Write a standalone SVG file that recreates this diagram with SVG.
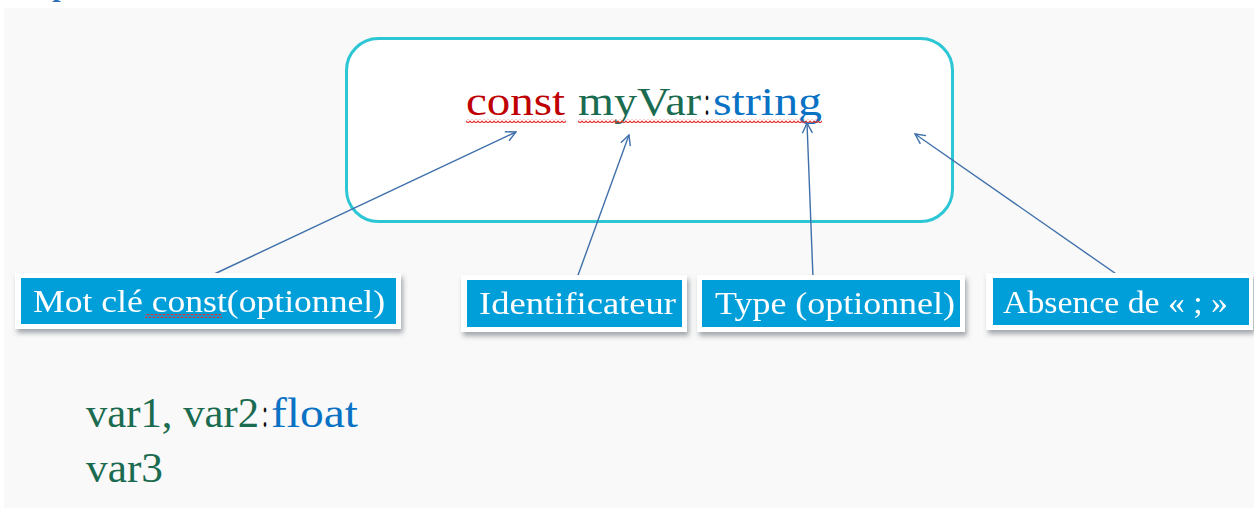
<svg xmlns="http://www.w3.org/2000/svg" width="1254" height="508" viewBox="0 0 1254 508">
  <style>
    .serif { font-family: "Liberation Serif", "DejaVu Serif", serif; }
    .label-outer { fill: #ffffff; }
    .label-inner { fill: #069fd9; }
    .label-text { font-family: "Liberation Serif", "DejaVu Serif", serif; font-size: 31px; fill: #ffffff; }
    .kw { fill: #c00000; }
    .ident { fill: #1a6b50; }
    .type { fill: #0a72c4; }
    .colon { fill: #111111; }
    .conn { stroke: #3f70aa; stroke-width: 1.4; fill: none; marker-end: url(#open-arrow); }
  </style>
  <defs>
    <marker id="open-arrow" viewBox="0 0 12 12" refX="11" refY="6" markerWidth="12" markerHeight="12" markerUnits="userSpaceOnUse" orient="auto">
      <path d="M1,1 L11,6 L1,11" fill="none" stroke="#3f70aa" stroke-width="1.4"/>
    </marker>
    <pattern id="squiggle" x="0" y="0" width="4" height="4" patternUnits="userSpaceOnUse">
      <polyline points="0,3 2,1 4,3" fill="none" stroke="#e0312e" stroke-width="1.2"/>
    </pattern>
    <filter id="shadow" x="-5%" y="-20%" width="112%" height="160%">
      <feDropShadow dx="2" dy="4" stdDeviation="2.5" flood-color="#4a5560" flood-opacity="0.5"/>
    </filter>
  </defs>

  <!-- page background -->
  <rect x="0" y="0" width="1254" height="508" fill="#ffffff"/>
  <rect x="4" y="8" width="1250" height="500" fill="#f9f9f9"/>

  <!-- heading, mostly above the top edge -->
  <text class="serif" x="-21" y="-4" font-size="30" font-weight="bold" fill="#2f6eba">Exemple</text>

  <!-- declaration box -->
  <g id="declaration">
    <rect x="346.5" y="38.5" width="606" height="183" rx="32" ry="32" fill="#ffffff" stroke="#2cc6d4" stroke-width="3"/>
    <text class="serif" y="115" font-size="40">
      <tspan class="kw" x="466" textLength="99" lengthAdjust="spacingAndGlyphs">const</tspan>
      <tspan class="ident" x="578" textLength="123" lengthAdjust="spacingAndGlyphs">myVar</tspan>
      <tspan class="colon" x="704" textLength="6" lengthAdjust="spacingAndGlyphs">:</tspan>
      <tspan class="type" x="713" textLength="109" lengthAdjust="spacingAndGlyphs">string</tspan>
    </text>
    <rect x="466" y="119" width="100" height="4" fill="url(#squiggle)"/>
    <rect x="578" y="119" width="244" height="4" fill="url(#squiggle)"/>
  </g>

  <!-- connectors -->
  <g id="connectors">
    <line class="conn" x1="210" y1="276" x2="516" y2="132"/>
    <line class="conn" x1="577" y1="278" x2="629" y2="135"/>
    <line class="conn" x1="813" y1="278" x2="807" y2="123"/>
    <line class="conn" x1="1122" y1="278" x2="915" y2="134"/>
  </g>

  <!-- labels -->
  <g id="label-keyword" filter="url(#shadow)">
    <rect class="label-outer" x="15" y="273" width="386" height="56"/>
    <rect class="label-inner" x="21" y="278" width="375" height="46"/>
    <text class="label-text" x="33" y="312" textLength="352" lengthAdjust="spacingAndGlyphs">Mot clé const(optionnel)</text>
    <rect x="145" y="314" width="77" height="4" fill="url(#squiggle)"/>
  </g>
  <g id="label-identifier" filter="url(#shadow)">
    <rect class="label-outer" x="461" y="275" width="226" height="57"/>
    <rect class="label-inner" x="467" y="280" width="215" height="47"/>
    <text class="label-text" x="479" y="314" textLength="197" lengthAdjust="spacingAndGlyphs">Identificateur</text>
  </g>
  <g id="label-type" filter="url(#shadow)">
    <rect class="label-outer" x="697" y="275" width="268" height="57"/>
    <rect class="label-inner" x="702" y="280" width="258" height="47"/>
    <text class="label-text" x="715" y="314" textLength="240" lengthAdjust="spacingAndGlyphs">Type (optionnel)</text>
  </g>
  <g id="label-semicolon" filter="url(#shadow)">
    <rect class="label-outer" x="986" y="273" width="267" height="57"/>
    <rect class="label-inner" x="993" y="278" width="256" height="47"/>
    <text class="label-text" x="1003" y="313" textLength="225" lengthAdjust="spacingAndGlyphs">Absence de « ; »</text>
  </g>

  <!-- further declarations -->
  <g id="examples">
    <text class="serif" y="427" font-size="42">
      <tspan class="ident" x="86" textLength="173" lengthAdjust="spacingAndGlyphs">var1, var2</tspan>
      <tspan class="colon" x="262" textLength="6" lengthAdjust="spacingAndGlyphs">:</tspan>
      <tspan class="type" x="271" textLength="87" lengthAdjust="spacingAndGlyphs">float</tspan>
    </text>
    <text class="serif ident" x="86" y="482" font-size="42" textLength="77" lengthAdjust="spacingAndGlyphs">var3</text>
  </g>
</svg>
